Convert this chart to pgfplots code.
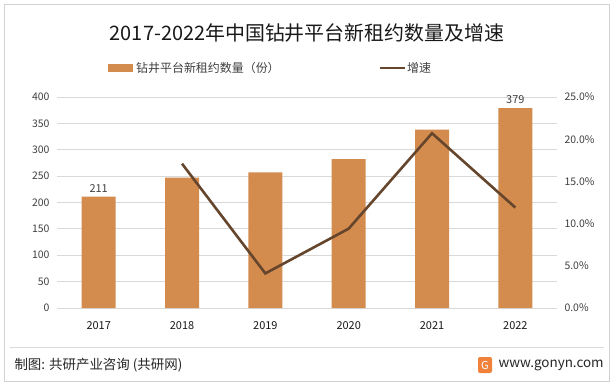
\documentclass[border=0pt]{standalone}
\usepackage{pgfplots}
\pgfplotsset{compat=1.18}
\usepackage{fontspec}
\setmainfont{Noto Sans CJK SC}
\definecolor{barc}{RGB}{212,139,78}
\definecolor{linec}{RGB}{101,70,45}
\definecolor{txt}{RGB}{64,64,64}
\definecolor{gridc}{RGB}{217,217,217}
\definecolor{logoc}{RGB}{240,130,60}
\begin{document}
\begin{tikzpicture}[x=1bp,y=1bp]
\begin{scope}[shift={(-57bp,-78bp)}]
\fill[white] (0,0) rectangle (614,386);
\draw[black!18, line width=1.2bp] (4.5,4.5) rectangle (609.5,381.5);
\node[font=\fontsize{20}{24}\selectfont, text=black!90] at (307,353) {2017-2022年中国钻井平台新租约数量及增速};
% legend
\fill[barc] (108,314) rectangle (133,322);
\node[anchor=west, font=\fontsize{12}{14}\selectfont, text=txt, inner sep=1bp] at (135,318) {钻井平台新租约数量（份）};
\draw[linec, line width=2.6bp] (380,318) -- (405,318);
\node[anchor=west, font=\fontsize{12}{14}\selectfont, text=txt, inner sep=1bp] at (406,318) {增速};
% footer
\draw[black!15, line width=1bp] (10,39) -- (604,39);
\node[anchor=west, font=\fontsize{13.5}{15}\selectfont, text=black!85] at (11,21) {制图: 共研产业咨询 (共研网)};
\fill[logoc, rounded corners=2bp] (478,13) rectangle (492,29);
\node[font=\fontsize{11}{12}\selectfont, text=white] at (485,21) {G};
\node[anchor=west, font=\fontsize{13.5}{15}\selectfont, text=black!85] at (495,21) {www.gonyn.com};
\end{scope}
% left axis with bars
\begin{axis}[anchor=south west, width=500bp, height=211bp, scale only axis,
  xmin=-0.5, xmax=5.5, ymin=0, ymax=400,
  ytick={0,50,...,400}, xtick={0,1,2,3,4,5},
  xticklabels={2017,2018,2019,2020,2021,2022},
  axis line style={draw=none}, major tick length=0pt,
  ymajorgrids, grid style={gridc, line width=0.8bp},
  /pgf/number format/assume math mode=true,
  tick label style={font=\fontsize{10.5}{12}\selectfont, text=txt},
  xticklabel style={font=\fontsize{11}{12}\selectfont, text=black!90, yshift=-10bp},
  yticklabel style={xshift=-4bp},
  ybar, bar width=34bp,
  point meta=explicit symbolic,
  nodes near coords, every node near coord/.append style={font=\fontsize{11}{12}\selectfont, text=txt, yshift=1bp},
  clip=false]
\addplot[fill=barc, draw=none] coordinates {(0,211) [211] (1,247) [{}] (2,257) [{}] (3,282) [{}] (4,338) [{}] (5,379) [379]};
\end{axis}
% right axis with line
\begin{axis}[anchor=south west, width=500bp, height=211bp, scale only axis,
  xmin=-0.5, xmax=5.5, ymin=0, ymax=25,
  ytick={0,5,...,25}, xtick=\empty,
  axis y line*=right, axis x line=none,
  axis line style={draw=none}, major tick length=0pt,
  /pgf/number format/assume math mode=true,
  yticklabel={\pgfmathprintnumber[fixed,fixed zerofill,precision=1]{\tick}\%},
  tick label style={font=\fontsize{10.5}{12}\selectfont, text=txt},
  yticklabel style={xshift=4bp},
  clip=false]
\addplot[linec, line width=2.6bp, mark=none] coordinates {(1,17.1) (2,4.1) (3,9.4) (4,20.7) (5,11.9)};
\end{axis}
\end{tikzpicture}
\end{document}
